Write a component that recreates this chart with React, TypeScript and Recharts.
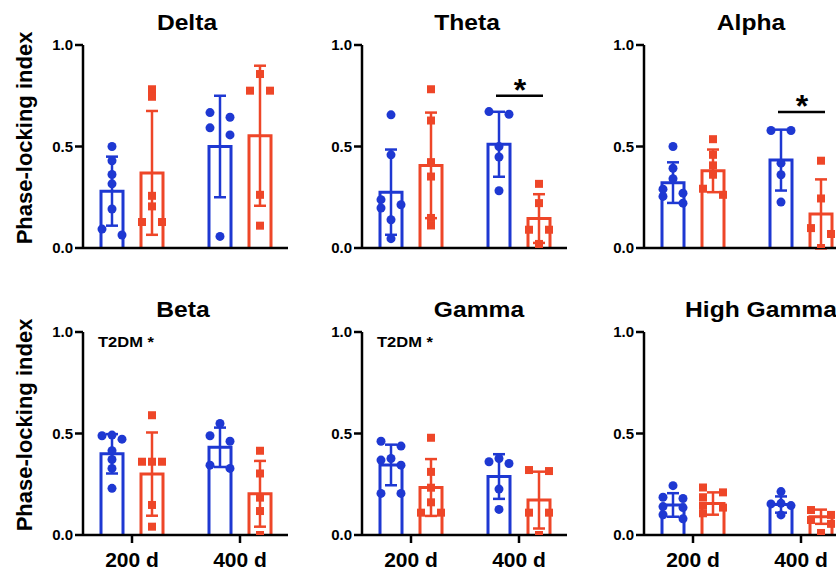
import React from 'react';
import { ComposedChart, Bar, ErrorBar, Scatter, XAxis, YAxis, ReferenceDot } from 'recharts';

// ---------- data ----------
const CATEGORIES = ['200 d', '400 d'];
const Y_TICKS = [0, 0.5, 1.0];
const BAND_TITLES = ['Delta', 'Theta', 'Alpha', 'Beta', 'Gamma', 'High Gamma'];
const Y_LABEL = 'Phase-locking index';
const EFFECT_LABEL = 'T2DM *';

// means / SDs per age [200 d, 400 d]
const DELTA_CTRL_MEAN = [0.28, 0.5];
const DELTA_CTRL_SD = [0.17, 0.25];
const DELTA_T2DM_MEAN = [0.37, 0.553];
const DELTA_T2DM_SD = [0.305, 0.345];
const DELTA_CTRL_200 = [0.5, 0.43, 0.362, 0.316, 0.192, 0.093, 0.064];
const DELTA_T2DM_200 = [0.782, 0.745, 0.257, 0.205, 0.128, 0.128];
const DELTA_CTRL_400 = [0.667, 0.644, 0.592, 0.557, 0.057];
const DELTA_T2DM_400 = [0.857, 0.775, 0.775, 0.262, 0.11];

const THETA_CTRL_MEAN = [0.275, 0.511];
const THETA_CTRL_SD = [0.21, 0.16];
const THETA_T2DM_MEAN = [0.407, 0.145];
const THETA_T2DM_SD = [0.26, 0.12];
const THETA_CTRL_200 = [0.656, 0.459, 0.238, 0.213, 0.197, 0.139, 0.046];
const THETA_T2DM_200 = [0.782, 0.628, 0.423, 0.352, 0.148, 0.111];
const THETA_CTRL_400 = [0.672, 0.659, 0.5, 0.448, 0.282];
const THETA_T2DM_400 = [0.316, 0.221, 0.09, 0.09, 0.02];

const ALPHA_CTRL_MEAN = [0.322, 0.433];
const ALPHA_CTRL_SD = [0.1, 0.15];
const ALPHA_T2DM_MEAN = [0.38, 0.168];
const ALPHA_T2DM_SD = [0.105, 0.17];
const ALPHA_CTRL_200 = [0.5, 0.393, 0.341, 0.29, 0.27, 0.254, 0.221];
const ALPHA_T2DM_200 = [0.536, 0.459, 0.407, 0.361, 0.292, 0.262];
const ALPHA_CTRL_400 = [0.579, 0.579, 0.418, 0.361, 0.226];
const ALPHA_T2DM_400 = [0.43, 0.244, 0.098, 0.069, 0.0];

const BETA_CTRL_MEAN = [0.4, 0.432];
const BETA_CTRL_SD = [0.097, 0.097];
const BETA_T2DM_MEAN = [0.3, 0.203];
const BETA_T2DM_SD = [0.205, 0.162];
const BETA_CTRL_200 = [0.492, 0.489, 0.472, 0.415, 0.372, 0.328, 0.23];
const BETA_T2DM_200 = [0.59, 0.361, 0.361, 0.361, 0.148, 0.041];
const BETA_CTRL_400 = [0.549, 0.489, 0.462, 0.344, 0.328];
const BETA_T2DM_400 = [0.415, 0.303, 0.184, 0.118, 0.0];

const GAMMA_CTRL_MEAN = [0.345, 0.288];
const GAMMA_CTRL_SD = [0.1, 0.11];
const GAMMA_T2DM_MEAN = [0.234, 0.172];
const GAMMA_T2DM_SD = [0.14, 0.14];
const GAMMA_CTRL_200 = [0.462, 0.438, 0.377, 0.369, 0.344, 0.205, 0.205];
const GAMMA_T2DM_200 = [0.479, 0.311, 0.233, 0.161, 0.11, 0.11];
const GAMMA_CTRL_400 = [0.377, 0.361, 0.352, 0.226, 0.126];
const GAMMA_T2DM_400 = [0.32, 0.315, 0.11, 0.11, 0.0];

const HGAMMA_CTRL_MEAN = [0.148, 0.15];
const HGAMMA_CTRL_SD = [0.058, 0.04];
const HGAMMA_T2DM_MEAN = [0.155, 0.09];
const HGAMMA_T2DM_SD = [0.055, 0.035];
const HGAMMA_CTRL_200 = [0.243, 0.186, 0.18, 0.14, 0.135, 0.1, 0.08];
const HGAMMA_T2DM_200 = [0.234, 0.21, 0.186, 0.145, 0.135, 0.107];
const HGAMMA_CTRL_400 = [0.214, 0.156, 0.153, 0.145, 0.099];
const HGAMMA_T2DM_400 = [0.123, 0.099, 0.074, 0.055, 0.01];

// significance bar heights (400 d comparison), null = none
const SIG_Y = [null, 0.75, 0.67, null, null, null];
// main T2DM effect annotation shown
const SHOW_EFFECT = [false, false, false, true, true, false];

// ---------- styling / layout ----------
const BLUE = '#1e38d2';
const RED = '#ee4628';
const FONT = '"Liberation Sans", Arial, Helvetica, sans-serif';
const PANEL_LEFT = [0, 279, 561];
const ROW_TOP = [0, 285];
const BAR_SIZE = 22;
const BAR_GAP = 18;
const SERIES_OFFSET = (BAR_SIZE + BAR_GAP) / 2;
const JITTER_PX = 10;
const OVERLAP = 0.036; // value units in which two markers collide
const TITLE_POS = [
  [187, 30], [467, 30], [751, 30],
  [183, 317], [479, 317], [761, 317],
];

type Pt = { cat: string; v: number; s: number };

// simple beeswarm: cluster overlapping values, spread them sideways
function swarmSlots(values: number[]): number[] {
  const order = values.map((_, i) => i).sort((a, b) => values[b] - values[a]);
  const slots = new Array(values.length).fill(0);
  let cluster: number[] = [];
  const flush = () => {
    const n = cluster.length;
    if (n === 1) slots[cluster[0]] = 0;
    else if (n === 3 && values[cluster[0]] - values[cluster[2]] < OVERLAP) {
      slots[cluster[0]] = 0;
      slots[cluster[1]] = -1;
      slots[cluster[2]] = 1;
    } else cluster.forEach((id, k) => (slots[id] = k % 2 === 0 ? -1 : 1));
    cluster = [];
  };
  for (const i of order) {
    if (cluster.length && values[cluster[cluster.length - 1]] - values[i] >= OVERLAP) flush();
    cluster.push(i);
  }
  if (cluster.length) flush();
  return slots;
}

function toScatter(groups: number[][]): Pt[] {
  const out: Pt[] = [];
  groups.forEach((vals, gi) => {
    const slots = swarmSlots(vals);
    vals.forEach((v, i) => out.push({ cat: CATEGORIES[gi], v, s: slots[i] }));
  });
  return out;
}

const PANELS = [
  { mC: DELTA_CTRL_MEAN, sC: DELTA_CTRL_SD, mT: DELTA_T2DM_MEAN, sT: DELTA_T2DM_SD, pC: [DELTA_CTRL_200, DELTA_CTRL_400], pT: [DELTA_T2DM_200, DELTA_T2DM_400] },
  { mC: THETA_CTRL_MEAN, sC: THETA_CTRL_SD, mT: THETA_T2DM_MEAN, sT: THETA_T2DM_SD, pC: [THETA_CTRL_200, THETA_CTRL_400], pT: [THETA_T2DM_200, THETA_T2DM_400] },
  { mC: ALPHA_CTRL_MEAN, sC: ALPHA_CTRL_SD, mT: ALPHA_T2DM_MEAN, sT: ALPHA_T2DM_SD, pC: [ALPHA_CTRL_200, ALPHA_CTRL_400], pT: [ALPHA_T2DM_200, ALPHA_T2DM_400] },
  { mC: BETA_CTRL_MEAN, sC: BETA_CTRL_SD, mT: BETA_T2DM_MEAN, sT: BETA_T2DM_SD, pC: [BETA_CTRL_200, BETA_CTRL_400], pT: [BETA_T2DM_200, BETA_T2DM_400] },
  { mC: GAMMA_CTRL_MEAN, sC: GAMMA_CTRL_SD, mT: GAMMA_T2DM_MEAN, sT: GAMMA_T2DM_SD, pC: [GAMMA_CTRL_200, GAMMA_CTRL_400], pT: [GAMMA_T2DM_200, GAMMA_T2DM_400] },
  { mC: HGAMMA_CTRL_MEAN, sC: HGAMMA_CTRL_SD, mT: HGAMMA_T2DM_MEAN, sT: HGAMMA_T2DM_SD, pC: [HGAMMA_CTRL_200, HGAMMA_CTRL_400], pT: [HGAMMA_T2DM_200, HGAMMA_T2DM_400] },
];

const hollowBar = (color: string) => (props: any) => {
  const { x, y, width, height } = props;
  if (x == null || y == null || !height) return <g />;
  return (
    <g>
      <rect x={x} y={y} width={width} height={height} fill="#fff" />
      <path
        d={`M${x},${y + height} L${x},${y} L${x + width},${y} L${x + width},${y + height}`}
        fill="none"
        stroke={color}
        strokeWidth={3}
      />
    </g>
  );
};

const dotShape = (props: any) => {
  const { cx, cy, payload } = props;
  if (cx == null || cy == null) return <g />;
  return <circle cx={cx - SERIES_OFFSET + payload.s * JITTER_PX} cy={cy} r={4.5} fill={BLUE} />;
};

const squareShape = (props: any) => {
  const { cx, cy, payload } = props;
  if (cx == null || cy == null) return <g />;
  const x = cx + SERIES_OFFSET + payload.s * JITTER_PX;
  return <rect x={x - 4} y={cy - 4} width={8} height={8} fill={RED} />;
};

const sigShape = (props: any) => {
  const { cx, cy } = props;
  if (cx == null || cy == null) return <g />;
  return (
    <g>
      <line x1={cx - 23} x2={cx + 24} y1={cy} y2={cy} stroke="#000" strokeWidth={2.5} />
      <text x={cx + 1} y={cy + 5} textAnchor="middle" fontSize={32} fontWeight={700} fontFamily={FONT} fill="#000">
        *
      </text>
    </g>
  );
};

const axisStroke = { stroke: '#000', strokeWidth: 2.5 };

function Panel({ idx }: { idx: number }) {
  const p = PANELS[idx];
  const row = idx < 3 ? 0 : 1;
  const col = idx % 3;
  const bottom = row === 1;
  const data = CATEGORIES.map((c, i) => ({ cat: c, cMean: p.mC[i], cSd: p.sC[i], tMean: p.mT[i], tSd: p.sT[i] }));
  const ctrlPts = toScatter(p.pC);
  const t2dmPts = toScatter(p.pT);
  const sig = SIG_Y[idx];
  return (
    <div style={{ position: 'absolute', left: PANEL_LEFT[col], top: ROW_TOP[row] }}>
      <ComposedChart
        width={300}
        height={bottom ? 286 : 290}
        data={data}
        margin={{ top: bottom ? 47 : 45, right: 12, bottom: bottom ? 0 : 12, left: 23 }}
        barSize={BAR_SIZE}
        barGap={BAR_GAP}
      >
        <Bar dataKey="cMean" isAnimationActive={false} shape={hollowBar(BLUE)}>
          <ErrorBar dataKey="cSd" width={6} stroke={BLUE} strokeWidth={2.5} direction="y" />
        </Bar>
        <Bar dataKey="tMean" isAnimationActive={false} shape={hollowBar(RED)}>
          <ErrorBar dataKey="tSd" width={6} stroke={RED} strokeWidth={2.5} direction="y" />
        </Bar>
        <XAxis
          dataKey="cat"
          type="category"
          allowDuplicatedCategory={false}
          padding={{ left: -5, right: -6 }}
          height={bottom ? 36 : 30}
          tick={bottom ? { fontSize: 21, fontWeight: 700, fill: '#000', fontFamily: FONT } : false}
          tickSize={8}
          tickMargin={9}
          axisLine={axisStroke}
          tickLine={axisStroke}
        />
        <YAxis
          type="number"
          domain={[0, 1]}
          ticks={Y_TICKS}
          allowDataOverflow
          width={60}
          tickSize={8}
          tickMargin={2}
          tickFormatter={(v: number) => v.toFixed(1)}
          tick={{ fontSize: 15, fontWeight: 700, fill: '#000', fontFamily: FONT }}
          axisLine={axisStroke}
          tickLine={axisStroke}
        />
        <Scatter data={ctrlPts} dataKey="v" isAnimationActive={false} shape={dotShape} />
        <Scatter data={t2dmPts} dataKey="v" isAnimationActive={false} shape={squareShape} />
        {sig != null && <ReferenceDot x="400 d" y={sig} shape={sigShape} />}
      </ComposedChart>
    </div>
  );
}

export default function App() {
  return (
    <div
      style={{
        position: 'absolute',
        left: 0,
        top: 0,
        width: 836,
        height: 571,
        overflow: 'hidden',
        background: '#fff',
        fontFamily: FONT,
      }}
    >
      {PANELS.map((_, i) => (
        <Panel key={i} idx={i} />
      ))}
      <svg width={836} height={571} style={{ position: 'absolute', left: 0, top: 0, pointerEvents: 'none' }}>
        {BAND_TITLES.map((t, i) => (
          <text
            key={t}
            transform={`translate(${TITLE_POS[i][0]} ${TITLE_POS[i][1]}) scale(1.12 1)`}
            textAnchor="middle"
            fontSize={22}
            fontWeight={700}
            fontFamily={FONT}
            fill="#000"
          >
            {t}
          </text>
        ))}
        {[138, 425].map((cy) => (
          <text
            key={cy}
            transform={`translate(32 ${cy}) rotate(-90)`}
            textAnchor="middle"
            fontSize={22}
            fontWeight={700}
            fontFamily={FONT}
            fill="#000"
          >
            {Y_LABEL}
          </text>
        ))}
        {SHOW_EFFECT.map((show, i) =>
          show ? (
            <text
              key={i}
              transform={`translate(${PANEL_LEFT[i % 3] + 98} 347) scale(1.1 1)`}
              fontSize={15}
              fontWeight={700}
              fontFamily={FONT}
              fill="#000"
            >
              {EFFECT_LABEL}
            </text>
          ) : null
        )}
      </svg>
    </div>
  );
}
